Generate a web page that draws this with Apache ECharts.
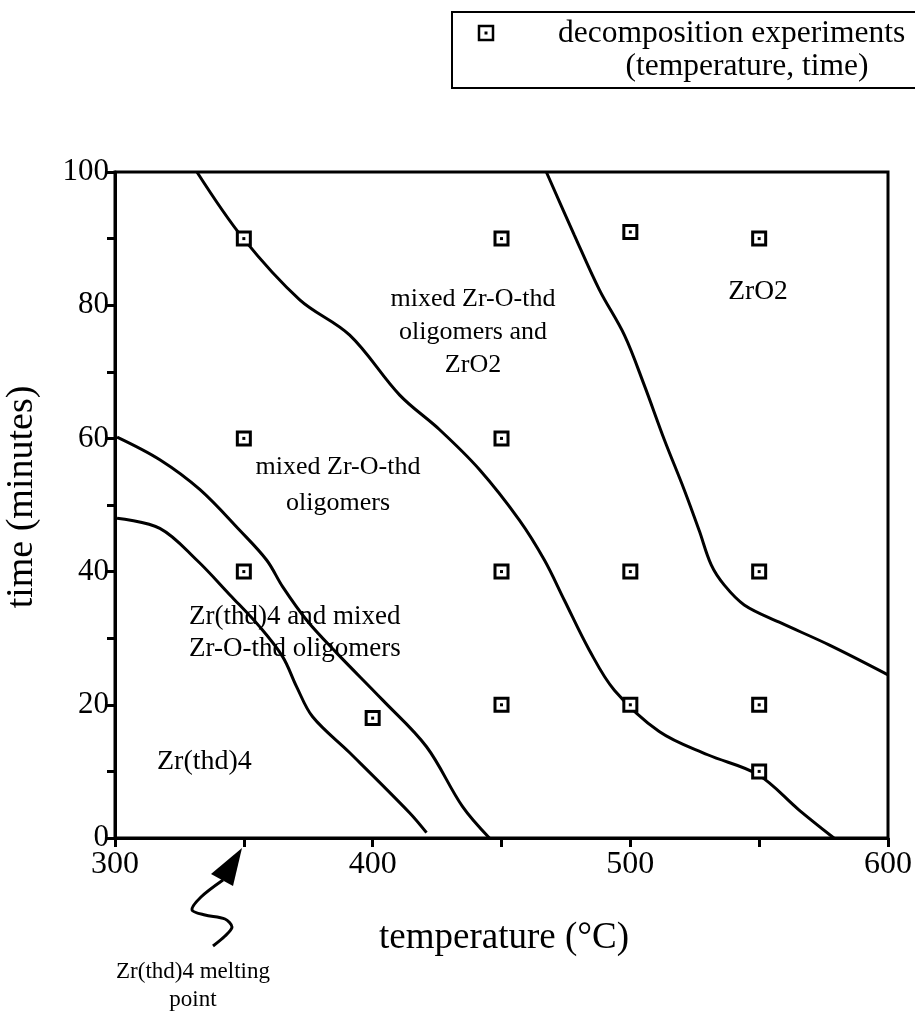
<!DOCTYPE html>
<html>
<head>
<meta charset="utf-8">
<script src="https://cdn.jsdelivr.net/npm/echarts@6.0.0/dist/echarts.min.js"></script>
<style>
  html, body { margin: 0; padding: 0; background: #fff; }
  #chart { width: 915px; height: 1015px; }
</style>
</head>
<body>
<div id="chart"></div>
<script>
// decomposition experiments (temperature °C, time min)
const experimentTemps = [350, 350, 350, 400, 450, 450, 450, 450, 500, 500, 500, 550, 550, 550, 550];
const experimentTimes = [90, 60, 40, 18, 90, 60, 40, 20, 91, 40, 20, 90, 40, 20, 10];

// phase boundaries
const boundary1Temps = [300.8, 317.4, 331.8, 344.6, 356.2, 365.1, 370.5, 376.7, 391.1, 414.3, 420.9];
const boundary1Times = [48, 46.5, 41.7, 36.5, 31.7, 27.2, 22.7, 18.2, 12.8, 3.8, 0.8];

const boundary2Temps = [300.8, 317.4, 333, 348.4, 358.9, 365.1, 374.4, 386, 403.9, 420.9, 434.9, 445.3];
const boundary2Times = [60.2, 56.8, 52.3, 46.2, 41.7, 37.7, 32.7, 27.8, 20.7, 13.7, 4.7, 0];

const boundary3Temps = [331.8, 349.6, 371.7, 391.1, 410.5, 426, 441.5, 457, 466.7, 474.4, 484.1, 493.8, 511.2, 530, 549.6, 565.5, 579];
const boundary3Times = [100, 90.1, 80.8, 75.5, 66.5, 61.3, 55.3, 47.7, 41.7, 35.7, 28.2, 22.2, 16, 12.5, 9.5, 4.2, 0];

const boundary4Temps = [467.4, 478.3, 488, 497.7, 505.4, 513.2, 520.9, 526.7, 531.4, 536.4, 544.2, 557.8, 577.1, 600];
const boundary4Times = [100, 90.5, 82.3, 75.5, 68, 59.8, 52.3, 46.2, 41, 38, 35, 32.4, 29, 24.5];

const xTicks = [300, 400, 500, 600];
const yTicks = [0, 20, 40, 60, 80, 100];

const FONT = '"Liberation Serif", "DejaVu Serif", serif';

const zip = (xs, ys) => xs.map((x, i) => [x, ys[i]]);

const chart = echarts.init(document.getElementById('chart'), null, { renderer: 'canvas' });

const boundaryLine = (temps, times) => ({
  type: 'line',
  data: zip(temps, times),
  smooth: 0.35,
  showSymbol: false,
  silent: true,
  lineStyle: { color: '#000', width: 3 },
  z: 2,
});

const txt = (x, y, text, size, extra) => ({
  type: 'text', x, y,
  style: Object.assign({ text, font: size + 'px ' + FONT, fill: '#000', align: 'center', verticalAlign: 'middle' }, extra || {}),
});

const option = {
  animation: false,
  backgroundColor: '#fff',
  textStyle: { fontFamily: FONT, color: '#000' },
  grid: {
    left: 115, right: 25, top: 172, bottom: 177,
    show: true, borderColor: '#000', borderWidth: 3, backgroundColor: 'transparent',
  },
  xAxis: {
    type: 'value',
    min: xTicks[0], max: xTicks[xTicks.length - 1], interval: 100,
    axisLine: { show: true, lineStyle: { color: '#000', width: 3 } },
    axisTick: { show: true, length: 9, lineStyle: { color: '#000', width: 3 } },
    minorTick: { show: true, splitNumber: 2, length: 9, lineStyle: { color: '#000', width: 3 } },
    splitLine: { show: false },
    axisLabel: { color: '#000', fontFamily: FONT, fontSize: 32, margin: 11 },
  },
  yAxis: {
    type: 'value',
    min: yTicks[0], max: yTicks[yTicks.length - 1], interval: 20,
    axisLine: { show: true, lineStyle: { color: '#000', width: 3 } },
    axisTick: { show: true, length: 9, lineStyle: { color: '#000', width: 3 } },
    minorTick: { show: true, splitNumber: 2, length: 8, lineStyle: { color: '#000', width: 3 } },
    splitLine: { show: false },
    axisLabel: { color: '#000', fontFamily: FONT, fontSize: 31, margin: 6 },
  },
  series: [
    boundaryLine(boundary1Temps, boundary1Times),
    boundaryLine(boundary2Temps, boundary2Times),
    boundaryLine(boundary3Temps, boundary3Times),
    boundaryLine(boundary4Temps, boundary4Times),
    {
      type: 'scatter',
      data: zip(experimentTemps, experimentTimes),
      symbol: 'rect',
      symbolSize: 13,
      itemStyle: { color: '#fff', borderColor: '#000', borderWidth: 3, opacity: 1 },
      z: 5,
    },
    {
      type: 'scatter',
      data: zip(experimentTemps, experimentTimes),
      symbol: 'rect',
      symbolSize: 3,
      itemStyle: { color: '#000', opacity: 1 },
      z: 6,
    },
  ],
  graphic: [
    // legend box
    { type: 'rect', shape: { x: 452, y: 12, width: 470, height: 76 }, style: { fill: '#fff', stroke: '#000', lineWidth: 2 } },
    { type: 'rect', shape: { x: 479, y: 26, width: 14, height: 14 }, style: { fill: '#fff', stroke: '#000', lineWidth: 2.5 } },
    { type: 'rect', shape: { x: 484.5, y: 31.5, width: 3, height: 3 }, style: { fill: '#000' } },
    txt(558, 34, 'decomposition experiments', 31.5, { align: 'left' }),
    txt(747, 67, '(temperature, time)', 31.5),

    // axis titles
    txt(504, 938, 'temperature (°C)', 37),
    Object.assign(txt(22, 497, 'time (minutes)', 38), { rotation: Math.PI / 2 }),

    // region labels
    txt(473, 332, 'mixed Zr-O-thd\noligomers and\nZrO2', 26, { lineHeight: 33 }),
    txt(758, 292, 'ZrO2', 27.5),
    txt(338, 485, 'mixed Zr-O-thd\noligomers', 26, { lineHeight: 36 }),
    txt(189, 633, 'Zr(thd)4 and mixed\nZr-O-thd oligomers', 27, { lineHeight: 32, align: 'left' }),
    txt(157, 762, 'Zr(thd)4', 28, { align: 'left' }),

    // melting point note with arrow
    txt(193, 986, 'Zr(thd)4 melting\npoint', 23, { lineHeight: 28 }),
    { type: 'polygon', shape: { points: [[242, 848], [211, 874], [233, 886]] }, style: { fill: '#000' } },
    {
      type: 'polyline',
      shape: { points: [[223, 880], [201, 897], [192, 910], [205, 915], [225, 919], [232, 927], [225, 936], [213, 946]], smooth: 0.3 },
      style: { fill: 'none', stroke: '#000', lineWidth: 3 },
    },
  ],
};

chart.setOption(option);
</script>
</body>
</html>
